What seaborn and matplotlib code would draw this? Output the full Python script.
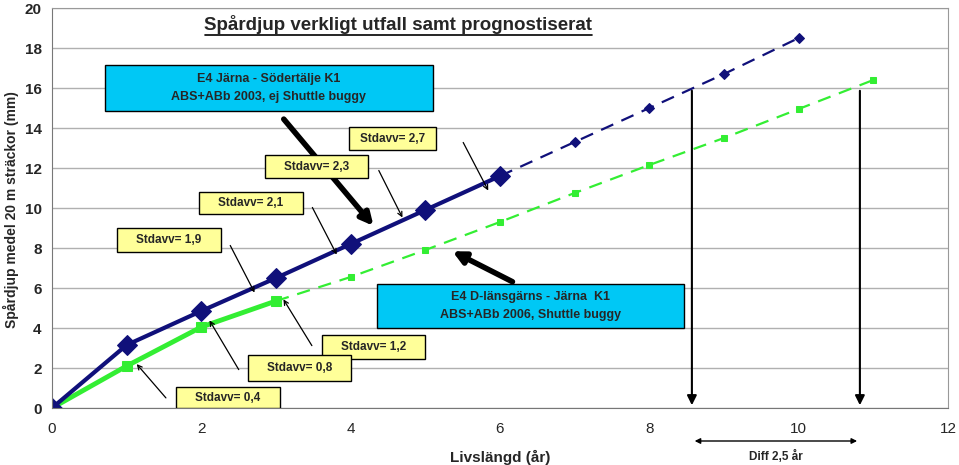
import matplotlib
matplotlib.use("Agg")
import matplotlib.pyplot as plt
import seaborn as sns
from matplotlib.patches import Rectangle

sns.set_style("white")
plt.rcParams['font.family'] = ['Liberation Sans', 'DejaVu Sans']

# ---- data ----
blue_years = [0, 1, 2, 3, 4, 5, 6]
blue_depth = [0, 3.15, 4.85, 6.5, 8.2, 9.9, 11.6]
blue_prog_years = [6, 7, 8, 9, 10]
blue_prog_depth = [11.6, 13.3, 15.0, 16.7, 18.5]

green_years = [0, 1, 2, 3]
green_depth = [0, 2.1, 4.05, 5.35]
green_prog_years = [3, 4, 5, 6, 7, 8, 9, 10, 11]
green_prog_depth = [5.35, 6.55, 7.9, 9.3, 10.75, 12.15, 13.5, 14.95, 16.4]

# reaching 16 mm
reach_16 = [8.57, 10.82]

navy = '#10107a'
green = '#33ee33'

fig = plt.figure(figsize=(9.59, 4.65), dpi=100)
ax = fig.add_axes([52 / 959, 57 / 465, 896 / 959, 400 / 465])

sns.lineplot(x=blue_prog_years, y=blue_prog_depth, ax=ax, color=navy, lw=1.6,
             linestyle=(0, (6, 4)), marker='D', markersize=5, markeredgecolor=navy,
             sort=False, errorbar=None)
sns.lineplot(x=green_prog_years, y=green_prog_depth, ax=ax, color=green, lw=1.6,
             linestyle=(0, (6, 4)), marker='s', markersize=5, markeredgecolor=green,
             sort=False, errorbar=None)
sns.lineplot(x=green_years, y=green_depth, ax=ax, color=green, lw=3.5,
             marker='s', markersize=7, markeredgecolor=green, sort=False, errorbar=None)
sns.lineplot(x=blue_years, y=blue_depth, ax=ax, color=navy, lw=3,
             marker='D', markersize=10, markeredgecolor=navy, sort=False, errorbar=None)

ax.set_xlim(0, 12)
ax.set_ylim(0, 20)
ax.set_xticks(range(0, 13, 2))
ax.set_yticks(range(0, 21, 2))
ax.yaxis.grid(True, color='#b0b0b0', lw=1)
ax.set_axisbelow(True)
for s in ax.spines.values():
    s.set_color('#999999')
ax.spines['left'].set_color('#777777')
ax.spines['bottom'].set_color('#777777')
ax.tick_params(axis='x', direction='out', length=4, color='#777777', labelsize=11, pad=6)
ax.tick_params(axis='y', direction='out', length=4, color='#777777', labelsize=11)
for lab in ax.get_yticklabels():
    lab.set_fontweight('bold')

ax.set_ylabel('Spårdjup medel 20 m sträckor (mm)', fontsize=10, fontweight='bold')
ax.yaxis.set_label_coords(-0.037, 0.495)
ax.set_xlabel('')
ax.text(6.0, -2.45, 'Livslängd (år)', fontsize=11, fontweight='bold',
        ha='center', va='center', clip_on=False)
ax.text(4.64, 19.15, 'Spårdjup verkligt utfall samt prognostiserat', fontsize=13.5,
        fontweight='bold', ha='center', va='center')
ax.plot([2.05, 7.23], [18.66, 18.66], color='black', lw=1.2)


def box(x0, y0, x1, y1, text, face, fs=8.5):
    ax.add_patch(Rectangle((x0, y0), x1 - x0, y1 - y0, facecolor=face,
                           edgecolor='black', lw=1, zorder=8))
    ax.text((x0 + x1) / 2, (y0 + y1) / 2, text, ha='center', va='center',
            fontsize=fs, fontweight='bold', zorder=9, linespacing=1.6)


# blue label boxes
box(0.71, 14.85, 5.10, 17.15, 'E4 Järna - Södertälje K1\nABS+ABb 2003, ej Shuttle buggy', '#00c8f5', fs=9)
box(4.35, 3.99, 8.46, 6.20, 'E4 D-länsgärns - Järna  K1\nABS+ABb 2006, Shuttle buggy', '#00c8f5', fs=9)

# yellow std-dev boxes
box(3.98, 12.9, 5.14, 14.05, 'Stdavv= 2,7', '#ffff99')
box(2.85, 11.5, 4.23, 12.65, 'Stdavv= 2,3', '#ffff99')
box(1.97, 9.7, 3.36, 10.8, 'Stdavv= 2,1', '#ffff99')
box(0.87, 7.8, 2.26, 9.0, 'Stdavv= 1,9', '#ffff99')
box(3.62, 2.45, 4.99, 3.65, 'Stdavv= 1,2', '#ffff99')
box(2.62, 1.35, 4.0, 2.65, 'Stdavv= 0,8', '#ffff99')
box(1.66, 0.0, 3.05, 1.05, 'Stdavv= 0,4', '#ffff99')

thin = dict(arrowstyle='->', color='black', lw=0.9, mutation_scale=8)
# (tail, head) pairs for the thin arrows
for (tx, ty), (hx, hy) in [((5.49, 13.4), (5.86, 10.75)),
                           ((4.36, 12.0), (4.71, 9.4)),
                           ((3.47, 10.15), (3.83, 7.55)),
                           ((2.37, 8.25), (2.73, 5.65)),
                           ((3.50, 3.0), (3.08, 5.55)),
                           ((2.52, 1.8), (2.09, 4.5)),
                           ((1.55, 0.4), (1.11, 2.3))]:
    ax.annotate('', xy=(hx, hy), xytext=(tx, ty), arrowprops=thin, zorder=7)

thick = dict(arrowstyle='-|>', color='black', lw=4, mutation_scale=18)
ax.annotate('', xy=(4.33, 9.0), xytext=(3.08, 14.55), arrowprops=thick, zorder=7)
ax.annotate('', xy=(5.33, 7.9), xytext=(6.2, 6.25), arrowprops=thick, zorder=7)

# vertical arrows where the 16 mm level is reached
vert = dict(arrowstyle='-|>', color='black', lw=1.5, mutation_scale=14)
for xv in reach_16:
    ax.annotate('', xy=(xv, 0), xytext=(xv, 16), arrowprops=vert, zorder=7)

# difference arrow under the axis
ax.annotate('', xy=(reach_16[0], -1.65), xytext=(reach_16[1], -1.65),
            arrowprops=dict(arrowstyle='<|-|>', color='black', lw=1, mutation_scale=8),
            annotation_clip=False)
ax.text(9.69, -2.4, 'Diff 2,5 år', fontsize=8.5, fontweight='bold',
        ha='center', va='center', clip_on=False)

fig.savefig('out.png', dpi=100)
